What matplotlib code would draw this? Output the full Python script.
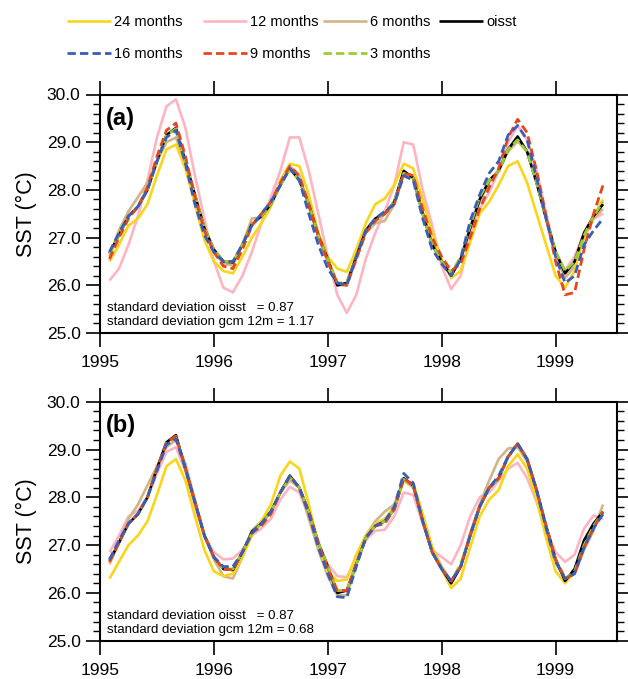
import numpy as np
import matplotlib
matplotlib.use("Agg")
import matplotlib.pyplot as plt
from matplotlib.lines import Line2D
from matplotlib.ticker import MultipleLocator, FormatStrFormatter

plt.rcParams['font.family'] = ['Liberation Sans', 'DejaVu Sans']

# monthly samples, Feb 1995 .. Jun 1999
months = np.arange(1, 54)
time = 1995 + months / 12.0

oisst = [26.67, 27.05, 27.45, 27.65, 28.0, 28.6, 29.15, 29.3, 28.6, 27.9, 27.2, 26.75,
         26.5, 26.48, 26.85, 27.28, 27.45, 27.7, 28.1, 28.45, 28.2, 27.7, 27.05, 26.55,
         26.0, 26.05, 26.6, 27.15, 27.4, 27.5, 27.75, 28.4, 28.25, 27.5, 26.85, 26.5,
         26.2, 26.55, 27.2, 27.8, 28.2, 28.4, 28.85, 29.12, 28.8, 28.15, 27.4, 26.7,
         26.25, 26.5, 27.1, 27.45, 27.7]

# panel (a)
a_24 = [26.5, 26.85, 27.25, 27.4, 27.7, 28.3, 28.85, 28.95, 28.45, 27.7, 26.95, 26.5,
        26.3, 26.25, 26.6, 27.0, 27.3, 27.65, 28.2, 28.55, 28.5, 27.9, 27.1, 26.6,
        26.35, 26.28, 26.75, 27.3, 27.7, 27.82, 28.1, 28.55, 28.45, 27.8, 27.1, 26.55,
        26.15, 26.3, 26.9, 27.5, 27.75, 28.1, 28.5, 28.6, 28.15, 27.5, 26.85, 26.2,
        25.95, 26.3, 27.05, 27.45, 27.8]
a_12 = [26.1, 26.35, 26.85, 27.45, 28.2, 29.1, 29.75, 29.9, 29.3, 28.3, 27.4, 26.5,
        25.95, 25.85, 26.2, 26.7, 27.3, 27.85, 28.4, 29.1, 29.1, 28.4, 27.5, 26.6,
        25.8, 25.42, 25.8, 26.55, 27.1, 27.55, 28.1, 29.0, 28.95, 28.0, 27.25, 26.4,
        25.92, 26.2, 27.05, 27.6, 27.95, 28.4, 29.0, 29.35, 29.05, 28.4, 27.5, 26.7,
        26.32, 26.6, 27.1, 27.4, 27.5]
a_6 = [26.6, 27.15, 27.55, 27.85, 28.15, 28.6, 29.0, 29.1, 28.55, 27.75, 27.1, 26.7,
       26.45, 26.42, 26.85, 27.4, 27.42, 27.7, 28.1, 28.5, 28.3, 27.65, 27.0, 26.5,
       26.0, 26.0, 26.55, 27.1, 27.3, 27.35, 27.7, 28.35, 28.3, 27.55, 26.9, 26.5,
       26.25, 26.55, 27.2, 27.75, 28.15, 28.4, 28.8, 29.02, 28.8, 28.15, 27.4, 26.65,
       26.15, 26.4, 27.0, 27.4, 27.6]
a_16 = [26.7, 27.1, 27.45, 27.65, 28.0, 28.6, 29.1, 29.25, 28.55, 27.7, 27.05, 26.7,
        26.5, 26.5, 26.85, 27.25, 27.5, 27.75, 28.1, 28.45, 28.2, 27.5, 26.85, 26.35,
        26.05, 26.0, 26.6, 27.15, 27.4, 27.55, 27.7, 28.3, 28.2, 27.4, 26.75, 26.45,
        26.2, 26.55, 27.35, 27.9, 28.35, 28.6, 29.15, 29.35, 29.05, 28.25, 27.4, 26.6,
        26.05, 26.2, 26.85, 27.15, 27.4]
a_9 = [26.55, 27.0, 27.4, 27.65, 28.05, 28.7, 29.25, 29.4, 28.7, 27.85, 27.15, 26.7,
       26.4, 26.35, 26.75, 27.25, 27.5, 27.75, 28.15, 28.5, 28.3, 27.7, 27.05, 26.5,
       26.05, 26.0, 26.55, 27.1, 27.35, 27.5, 27.7, 28.35, 28.3, 27.6, 27.0, 26.6,
       26.3, 26.45, 27.0, 27.6, 28.05, 28.45, 29.1, 29.48, 29.2, 28.4, 27.45, 26.5,
       25.8, 25.85, 26.75, 27.5, 28.1]
a_3 = [26.65, 27.05, 27.45, 27.65, 28.0, 28.6, 29.15, 29.28, 28.6, 27.9, 27.2, 26.75,
       26.5, 26.5, 26.85, 27.28, 27.45, 27.7, 28.1, 28.42, 28.2, 27.7, 27.05, 26.55,
       26.05, 26.05, 26.6, 27.15, 27.4, 27.5, 27.75, 28.35, 28.25, 27.5, 26.85, 26.5,
       26.25, 26.6, 27.25, 27.85, 28.2, 28.4, 28.85, 29.05, 28.8, 28.15, 27.4, 26.7,
       26.3, 26.5, 27.05, 27.45, 27.75]

# panel (b)
b_24 = [26.3, 26.65, 27.0, 27.2, 27.5, 28.05, 28.65, 28.8, 28.35, 27.6, 26.9, 26.45,
        26.35, 26.4, 26.75, 27.2, 27.5, 27.85, 28.45, 28.75, 28.6, 27.85, 27.0, 26.45,
        26.25, 26.28, 26.8, 27.2, 27.45, 27.55, 27.8, 28.35, 28.3, 27.65, 26.95, 26.5,
        26.1, 26.3, 26.95, 27.6, 27.95, 28.15, 28.65, 28.9, 28.6, 27.95, 27.15, 26.45,
        26.2, 26.45, 27.05, 27.4, 27.7]
b_12 = [26.85, 27.2, 27.6, 27.72, 28.0, 28.5, 28.95, 29.05, 28.55, 27.8, 27.2, 26.85,
        26.7, 26.72, 26.9, 27.2, 27.35, 27.55, 27.95, 28.22, 28.1, 27.6, 27.0, 26.6,
        26.35, 26.33, 26.7, 27.1, 27.3, 27.32, 27.6, 28.1, 28.05, 27.45, 26.9, 26.75,
        26.6, 27.0, 27.6, 28.0, 28.1, 28.35, 28.6, 28.72, 28.4, 27.9, 27.35, 26.85,
        26.65, 26.8, 27.35, 27.62, 27.55]
b_6 = [26.6, 27.05, 27.55, 27.85, 28.25, 28.65, 29.05, 29.2, 28.7, 27.95, 27.2, 26.7,
       26.35, 26.3, 26.75, 27.3, 27.5, 27.7, 28.1, 28.35, 28.2, 27.55, 26.9, 26.35,
       25.95, 25.95, 26.6, 27.2, 27.5, 27.7, 27.85, 28.35, 28.2, 27.6, 26.95, 26.55,
       26.25, 26.55, 27.25, 27.85, 28.35, 28.8, 29.02, 29.05, 28.75, 28.05, 27.3, 26.65,
       26.3, 26.4, 26.9, 27.3, 27.85]
b_16 = [26.7, 27.1, 27.45, 27.65, 28.0, 28.55, 29.1, 29.22, 28.6, 27.9, 27.2, 26.75,
        26.55, 26.55, 26.85, 27.25, 27.45, 27.7, 28.1, 28.45, 28.2, 27.65, 26.95, 26.4,
        25.92, 25.9, 26.55, 27.15, 27.4, 27.5, 27.8, 28.5, 28.3, 27.5, 26.85, 26.5,
        26.25, 26.55, 27.2, 27.8, 28.2, 28.45, 28.85, 29.12, 28.8, 28.15, 27.35, 26.65,
        26.3, 26.4, 26.95, 27.35, 27.65]
b_9 = [26.65, 27.05, 27.45, 27.65, 28.0, 28.6, 29.15, 29.28, 28.6, 27.9, 27.2, 26.75,
       26.5, 26.48, 26.85, 27.25, 27.4, 27.65, 28.1, 28.45, 28.2, 27.7, 27.05, 26.5,
       26.05, 26.05, 26.6, 27.15, 27.4, 27.45, 27.75, 28.4, 28.25, 27.5, 26.85, 26.5,
       26.25, 26.55, 27.2, 27.8, 28.2, 28.4, 28.85, 29.12, 28.8, 28.15, 27.4, 26.7,
       26.3, 26.4, 26.95, 27.35, 27.7]
b_3 = [26.65, 27.05, 27.45, 27.65, 28.0, 28.6, 29.12, 29.25, 28.6, 27.9, 27.2, 26.75,
       26.5, 26.5, 26.85, 27.25, 27.45, 27.7, 28.1, 28.42, 28.2, 27.7, 27.05, 26.55,
       26.05, 26.05, 26.6, 27.15, 27.4, 27.5, 27.75, 28.38, 28.25, 27.5, 26.85, 26.5,
       26.25, 26.6, 27.2, 27.8, 28.2, 28.4, 28.85, 29.1, 28.8, 28.15, 27.4, 26.7,
       26.3, 26.45, 27.0, 27.4, 27.7]

std_a = ["standard deviation oisst   = 0.87", "standard deviation gcm 12m = 1.17"]
std_b = ["standard deviation oisst   = 0.87", "standard deviation gcm 12m = 0.68"]
years = [1995, 1996, 1997, 1998, 1999]

# style per series: (label, colour, dashed)
styles = {
    "24": ("24 months", "#FAD519", False),
    "12": ("12 months", "#FFB5C1", False),
    "6": ("6 months", "#D4B487", False),
    "obs": ("oisst", "black", False),
    "16": ("16 months", "#3B5DB8", True),
    "9": ("9 months", "#E6461E", True),
    "3": ("3 months", "#9ACD32", True),
}
draw_order = ["12", "6", "24", "obs", "3", "9", "16"]


def style_kw(key):
    label, col, dashed = styles[key]
    kw = dict(color=col, lw=1.9, solid_capstyle='butt', solid_joinstyle='round')
    if dashed:
        kw.update(ls=(0, (3.0, 1.5)), lw=2.0, dash_capstyle='butt')
    return kw


fig = plt.figure(figsize=(6.28, 6.79), dpi=100)
ax_a = fig.add_axes([100 / 628, 346 / 679, 517 / 628, 238.5 / 679])
ax_b = fig.add_axes([100 / 628, 38.3 / 679, 517 / 628, 239 / 679])

panels = [
    (ax_a, {"24": a_24, "12": a_12, "6": a_6, "obs": oisst, "16": a_16, "9": a_9, "3": a_3}, "(a)", std_a),
    (ax_b, {"24": b_24, "12": b_12, "6": b_6, "obs": oisst, "16": b_16, "9": b_9, "3": b_3}, "(b)", std_b),
]

for ax, series, tag, std in panels:
    for key in draw_order:
        ax.plot(time, series[key], **style_kw(key))
    ax.set_xlim(1995, 1995 + 517 / 113.9)
    ax.set_ylim(25, 30)
    ax.set_xticks(years)
    ax.set_xticklabels([str(y) for y in years])
    ax.yaxis.set_major_locator(MultipleLocator(1.0))
    ax.yaxis.set_minor_locator(MultipleLocator(0.2))
    ax.yaxis.set_major_formatter(FormatStrFormatter('%.1f'))
    ax.tick_params(axis='x', which='major', direction='out', length=10, width=1.2,
                   top=True, bottom=True, labelsize=12.5, pad=6)
    ax.tick_params(axis='y', which='major', direction='out', length=10, width=1.2,
                   left=True, right=True, labelsize=12.5, pad=4)
    ax.tick_params(axis='y', which='minor', direction='out', length=5, width=1.0,
                   left=True, right=True)
    for sp in ax.spines.values():
        sp.set_linewidth(1.5)
    ax.set_ylabel("SST (°C)", fontsize=15.5, labelpad=7)
    ax.text(0.012, 0.90, tag, transform=ax.transAxes, fontsize=17, fontweight='bold',
            va='center', ha='left')
    ax.text(0.014, 0.105, std[0], transform=ax.transAxes, fontsize=9.5, va='center')
    ax.text(0.014, 0.045, std[1], transform=ax.transAxes, fontsize=9.5, va='center')

# legend drawn in figure pixels, two rows like the original
legend_rows = [["24", "12", "6", "obs"], ["16", "9", "3"]]
col_x = [67, 203, 323, 439]
row_y = [21, 53]
for r, keys in enumerate(legend_rows):
    for c, key in enumerate(keys):
        x0 = col_x[c]
        y0 = 679 - row_y[r]
        kw = style_kw(key)
        fig.add_artist(Line2D([x0 / 628, (x0 + 44) / 628], [y0 / 679, y0 / 679],
                              transform=fig.transFigure, **kw))
        fig.text((x0 + 47) / 628, (y0 - 1) / 679, styles[key][0], fontsize=10.5,
                 va='center', ha='left')

fig.savefig("out.png", dpi=100)
